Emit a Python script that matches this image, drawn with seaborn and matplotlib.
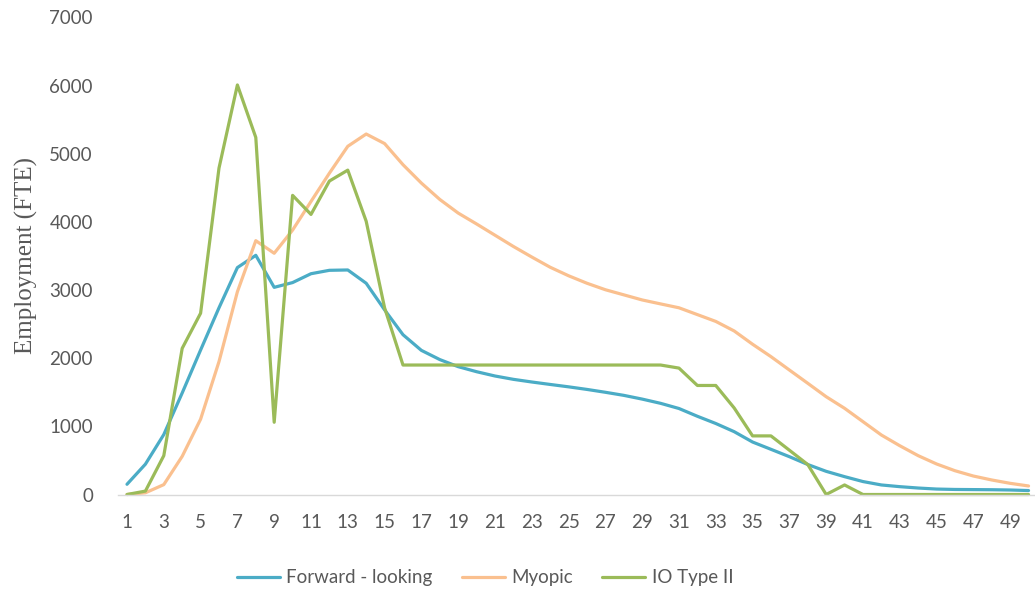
import numpy as np
import pandas as pd
import matplotlib
matplotlib.use("Agg")
import matplotlib.pyplot as plt
from matplotlib.lines import Line2D
import seaborn as sns

periods = list(range(1, 51))

forward_looking = [150, 445, 880, 1490, 2120, 2740, 3330, 3510, 3040, 3110,
                   3240, 3290, 3295, 3100, 2710, 2345, 2115, 1980, 1876, 1802,
                   1739, 1690, 1651, 1615, 1580, 1542, 1500, 1455, 1400, 1338,
                   1262, 1148, 1042, 922, 770, 663, 555, 440, 340, 262,
                   190, 140, 115, 95, 80, 74, 72, 70, 66, 58]

myopic = [0, 25, 145, 560, 1105, 1950, 2975, 3725, 3540, 3880,
          4300, 4715, 5110, 5290, 5150, 4840, 4570, 4330, 4130, 3970,
          3805, 3640, 3485, 3335, 3210, 3100, 3005, 2930, 2855, 2797,
          2740, 2640, 2540, 2400, 2205, 2023, 1827, 1632, 1435, 1265,
          1069, 873, 716, 570, 448, 349, 271, 213, 164, 125]

io_type_ii = [0, 50, 570, 2145, 2660, 4790, 6010, 5240, 1060, 4390,
              4110, 4600, 4760, 4010, 2740, 1900, 1900, 1900, 1900, 1900,
              1900, 1900, 1900, 1900, 1900, 1900, 1900, 1900, 1900, 1900,
              1855, 1600, 1600, 1270, 860, 860, 650, 440, 0, 140,
              0, 0, 0, 0, 0, 0, 0, 0, 0, 0]

series_names = ["Forward - looking", "Myopic", "IO Type II"]
colors = ["#4BACC6", "#FAC08F", "#9BBB59"]

df = pd.DataFrame({
    "period": periods * 3,
    "employment": forward_looking + myopic + io_type_ii,
    "scenario": [series_names[0]] * 50 + [series_names[1]] * 50 + [series_names[2]] * 50,
})

sns.set_theme(style="white")
plt.rcParams["font.family"] = ["Lato", "DejaVu Sans"]

fig = plt.figure(figsize=(10.35, 5.94), dpi=100)
ax = fig.add_axes([118 / 1035, 1 - 494.5 / 594, (1035 - 118) / 1035, (494.5 - 17.5) / 594])

sns.lineplot(data=df, x="period", y="employment", hue="scenario",
             hue_order=series_names, palette=colors, linewidth=2.3,
             legend=False, ax=ax, clip_on=False)

ax.set_xlim(0.511, 50.35)
ax.set_ylim(0, 7000)
ax.set_xticks(list(range(1, 51, 2)))
ax.set_yticks(list(range(0, 7001, 1000)))
ax.tick_params(axis="both", length=0, labelsize=13.5, labelcolor="#595959")
ax.tick_params(axis="y", pad=18)
ax.tick_params(axis="x", pad=14)

for side in ["top", "right", "left"]:
    ax.spines[side].set_visible(False)
ax.spines["bottom"].set_color("#D9D9D9")
ax.spines["bottom"].set_linewidth(1.0)

ax.set_xlabel("")
ax.set_ylabel("Employment (FTE)", family="Liberation Serif", fontsize=18,
              color="#595959")
ax.yaxis.set_label_coords(-80 / 917, 0.5)

handles = [Line2D([0], [0], color=c, lw=2.3) for c in colors]
fig.legend(handles, series_names, loc="center", ncol=3, frameon=False,
           bbox_to_anchor=(485 / 1035, 1 - 578 / 594), fontsize=13.5,
           labelcolor="#595959", handlelength=2.3, handletextpad=0.35,
           columnspacing=1.55)

fig.savefig("out.png", dpi=100)
